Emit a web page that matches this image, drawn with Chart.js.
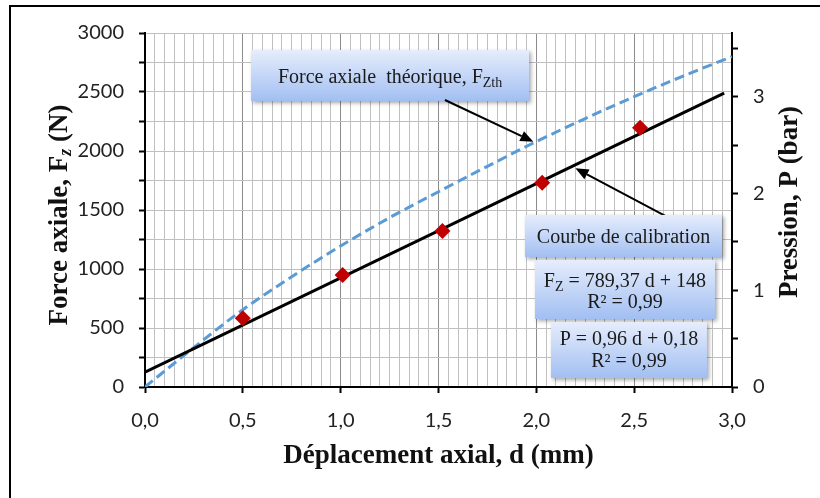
<!DOCTYPE html>
<html>
<head>
<meta charset="utf-8">
<script src="https://cdn.jsdelivr.net/npm/chart.js@4.4.1/dist/chart.umd.min.js"></script>
<style>
  html, body { margin: 0; padding: 0; background: #fff; overflow: hidden; }
  canvas { display: block; }
</style>
</head>
<body>
<canvas id="chart" width="820" height="498"></canvas>
<script>
// values
const thD = [0, 0.25, 0.5, 0.75, 1.0, 1.25, 1.5, 1.75, 2.0, 2.25, 2.5, 2.75, 3.0];
const thF = [0, 335, 655, 935, 1195, 1435, 1655, 1870, 2080, 2275, 2460, 2635, 2800];
const fitD = [0, 2.96];
const fitF = [125, 2490];
const measD = [0.50, 1.01, 1.52, 2.03, 2.53];
const measF = [582, 949, 1322, 1731, 2198];

// tick labels
const xLabels = [0, 0.5, 1.0, 1.5, 2.0, 2.5, 3.0];
const yLabels = [0, 500, 1000, 1500, 2000, 2500, 3000];
const pLabels = [0, 1, 2, 3];

const SERIF = '"Liberation Serif", "Times New Roman", serif';
const SANS = 'Lato, "Open Sans", sans-serif';

const near = (v, list) => list.some(l => Math.abs(l - v) < 1e-6);
const isMajorX = v => Math.abs(v * 2 - Math.round(v * 2)) < 1e-6;

function richWidth(ctx, parts) {
  let w = 0;
  parts.forEach(p => { ctx.font = p.font; w += ctx.measureText(p.t).width; });
  return w;
}

function drawRich(ctx, parts, cx, y) {
  let x = cx - richWidth(ctx, parts) / 2;
  ctx.textAlign = 'left';
  ctx.textBaseline = 'alphabetic';
  parts.forEach(p => {
    ctx.font = p.font;
    ctx.fillText(p.t, x, y + (p.dy || 0));
    x += ctx.measureText(p.t).width;
  });
}

function drawBox(ctx, x1, y1, x2, y2) {
  ctx.save();
  const g = ctx.createLinearGradient(0, y1, 0, y2);
  g.addColorStop(0, '#e6edfc');
  g.addColorStop(1, '#a2bff2');
  ctx.shadowColor = 'rgba(0,0,0,0.35)';
  ctx.shadowBlur = 4;
  ctx.shadowOffsetX = 2;
  ctx.shadowOffsetY = 2;
  ctx.fillStyle = g;
  ctx.fillRect(x1, y1, x2 - x1, y2 - y1);
  ctx.restore();
}

function drawArrow(ctx, x1, y1, x2, y2) {
  const a = Math.atan2(y2 - y1, x2 - x1), len = 13, half = 5.5;
  const bx = x2 - len * Math.cos(a), by = y2 - len * Math.sin(a);
  ctx.save();
  ctx.strokeStyle = '#000';
  ctx.fillStyle = '#000';
  ctx.lineWidth = 2;
  ctx.beginPath();
  ctx.moveTo(x1, y1);
  ctx.lineTo(bx, by);
  ctx.stroke();
  ctx.beginPath();
  ctx.moveTo(x2, y2);
  ctx.lineTo(bx + half * Math.sin(a), by - half * Math.cos(a));
  ctx.lineTo(bx - half * Math.sin(a), by + half * Math.cos(a));
  ctx.closePath();
  ctx.fill();
  ctx.restore();
}

// annotations and titles, placed in data units (d, N)
const extras = {
  id: 'extras',
  afterDatasetsDraw(chart) {
    const ctx = chart.ctx, x = chart.scales.x, y = chart.scales.y, a = chart.chartArea;
    const px = v => x.getPixelForValue(v), py = v => y.getPixelForValue(v);
    const f20 = '20px ' + SERIF, f14 = '14px ' + SERIF;

    ctx.save();

    // theoretical force label
    drawBox(ctx, px(0.542), py(2856), px(1.963), py(2424));
    ctx.fillStyle = '#1a1a1a';
    drawRich(ctx, [{t: 'Force axiale  théorique, F', font: f20}, {t: 'Zth', font: f14, dy: 4}],
      (px(0.542) + px(1.963)) / 2, py(2574));
    drawArrow(ctx, px(1.533), py(2432), px(1.985), py(2079));

    // calibration label
    drawArrow(ctx, px(2.666), py(1443), px(2.2), py(1853));
    drawBox(ctx, px(1.942), py(1458), px(2.949), py(1102));
    ctx.fillStyle = '#1a1a1a';
    drawRich(ctx, [{t: 'Courbe de calibration', font: f20}], (px(1.942) + px(2.949)) / 2, py(1218));

    // equations
    drawBox(ctx, px(1.993), py(1076), px(2.913), py(576));
    ctx.fillStyle = '#1a1a1a';
    let cx = (px(1.993) + px(2.913)) / 2;
    drawRich(ctx, [{t: 'F', font: f20}, {t: 'Z', font: f14, dy: 4}, {t: ' = 789,37 d + 148', font: f20}], cx, py(850));
    drawRich(ctx, [{t: 'R² = 0,99', font: f20}], cx, py(667));

    drawBox(ctx, px(2.075), py(551), px(2.872), py(76));
    ctx.fillStyle = '#1a1a1a';
    cx = (px(2.075) + px(2.872)) / 2;
    drawRich(ctx, [{t: 'P = 0,96 d + 0,18', font: f20}], cx, py(356));
    drawRich(ctx, [{t: 'R² = 0,99', font: f20}], cx, py(172));

    // axis titles
    const tb = 'bold 27px ' + SERIF;
    ctx.fillStyle = '#111';
    drawRich(ctx, [{t: 'Déplacement axial, d (mm)', font: tb}], (a.left + a.right) / 2, a.bottom + 76);

    ctx.save();
    ctx.translate(a.left - 78, (a.top + a.bottom) / 2 + 5);
    ctx.rotate(-Math.PI / 2);
    drawRich(ctx, [{t: 'Force axiale, F', font: tb}, {t: 'z', font: 'italic bold 18px ' + SERIF, dy: 4}, {t: ' (N)', font: tb}], 0, 0);
    ctx.restore();

    ctx.save();
    ctx.translate(a.right + 65, (a.top + a.bottom) / 2 - 8);
    ctx.rotate(-Math.PI / 2);
    drawRich(ctx, [{t: 'Pression, P (bar)', font: tb}], 0, 0);
    ctx.restore();

    // outer frame
    ctx.strokeStyle = '#000';
    ctx.lineWidth = 2;
    ctx.strokeRect(10, 6, 830, 510);
    ctx.restore();
  }
};

new Chart(document.getElementById('chart'), {
  type: 'scatter',
  data: {
    datasets: [
      {
        label: 'Mesures',
        data: measD.map((d, i) => ({x: d, y: measF[i]})),
        pointStyle: 'rectRot',
        pointRadius: 8,
        backgroundColor: '#c00000',
        borderColor: '#c00000',
        borderWidth: 0,
        showLine: false,
        order: 0
      },
      {
        label: 'Courbe de calibration',
        data: fitD.map((d, i) => ({x: d, y: fitF[i]})),
        showLine: true,
        borderColor: '#000',
        borderWidth: 3,
        pointRadius: 0,
        order: 1
      },
      {
        label: 'Force axiale théorique',
        data: thD.map((d, i) => ({x: d, y: thF[i]})),
        showLine: true,
        borderColor: '#5b9bd5',
        borderWidth: 3,
        borderDash: [10, 5],
        cubicInterpolationMode: 'monotone',
        pointRadius: 0,
        order: 2
      }
    ]
  },
  options: {
    responsive: false,
    animation: false,
    layout: { padding: { top: 33, left: 0, right: 0, bottom: 0 } },
    plugins: { legend: { display: false }, tooltip: { enabled: false } },
    scales: {
      x: {
        type: 'linear',
        min: 0, max: 3,
        afterFit: s => { s.height = 111; },
        ticks: {
          stepSize: 0.05,
          autoSkip: false,
          maxRotation: 0,
          padding: 16,
          color: '#222',
          font: { family: SANS, size: 20 },
          callback: v => near(v, xLabels) ? v.toFixed(1).replace('.', ',') : ''
        },
        grid: {
          color: c => isMajorX(c.tick.value) ? '#8c8c8c' : '#c0c0c0',
          lineWidth: 1,
          tickLength: 6,
          tickWidth: 2,
          tickColor: c => isMajorX(c.tick.value) ? '#000' : 'rgba(0,0,0,0)'
        },
        border: { color: '#000', width: 2 }
      },
      y: {
        position: 'left',
        min: 0, max: 3000,
        afterFit: s => { s.width = 145; },
        ticks: {
          stepSize: 250,
          padding: 15,
          color: '#222',
          font: { family: SANS, size: 20 },
          callback: v => near(v, yLabels) ? String(v) : ''
        },
        grid: { color: '#bfbfbf', lineWidth: 1, tickLength: 6, tickWidth: 2, tickColor: '#000' },
        border: { color: '#000', width: 2 }
      },
      y2: {
        position: 'right',
        min: 0, max: 3.66,
        afterFit: s => { s.width = 88; },
        ticks: {
          stepSize: 0.5,
          includeBounds: false,
          padding: 15,
          color: '#222',
          font: { family: SANS, size: 20 },
          callback: v => near(v, pLabels) ? String(v) : ''
        },
        grid: { drawOnChartArea: false, tickLength: 6, tickWidth: 2, tickColor: '#000' },
        border: { color: '#000', width: 2 }
      }
    }
  },
  plugins: [extras]
});
</script>
</body>
</html>
